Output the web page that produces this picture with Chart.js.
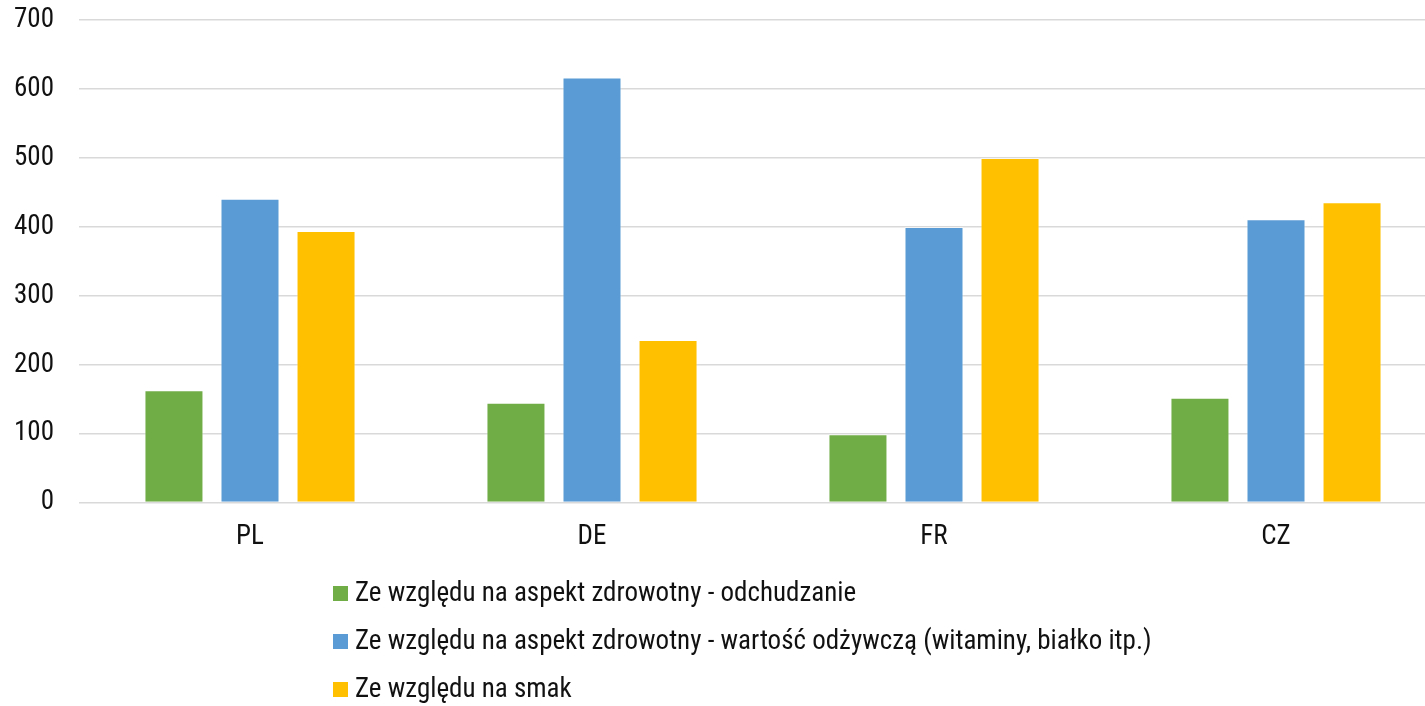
<!DOCTYPE html>
<html>
<head>
<meta charset="utf-8">
<script src="https://cdn.jsdelivr.net/npm/chart.js@4.4.1/dist/chart.umd.min.js"></script>
<style>
  html, body { margin: 0; padding: 0; background: #fff; overflow: hidden; }
  #wrap { width: 1447px; height: 727px; margin-top: -21px; }
</style>
</head>
<body>
<div id="wrap"><canvas id="wykres"></canvas></div>
<script>
const kraje = ['PL', 'DE', 'FR', 'CZ'];
const odchudzanie = [163, 145, 99, 152];
const wartoscOdzywcza = [441, 617, 400, 411];
const smak = [394, 236, 500, 436];
const etykiety = [
  'Ze względu na aspekt zdrowotny - odchudzanie',
  'Ze względu na aspekt zdrowotny - wartość odżywczą (witaminy, białko itp.)',
  'Ze względu na smak'
];
const kolory = ['#70AD47', '#5B9BD5', '#FFC000'];

const FONT = "'Liberation Sans Narrow', 'Roboto Condensed', 'Arial Narrow', Roboto, sans-serif";

// legenda pionowa pod wykresem
const legendaPlugin = {
  id: 'legendaPionowa',
  afterDraw(chart) {
    const ctx = chart.ctx;
    ctx.save();
    ctx.font = '27px ' + FONT;
    ctx.textBaseline = 'middle';
    chart.data.datasets.forEach((ds, i) => {
      const y = 615 + i * 48;
      ctx.fillStyle = ds.backgroundColor;
      ctx.fillRect(333, y - 8, 15, 15);
      ctx.fillStyle = '#111';
      ctx.fillText(ds.label, 355, y);
    });
    ctx.restore();
  }
};

const ctx = document.getElementById('wykres');
new Chart(ctx, {
  type: 'bar',
  data: {
    labels: kraje,
    datasets: [
      { label: etykiety[0], data: odchudzanie, backgroundColor: kolory[0] },
      { label: etykiety[1], data: wartoscOdzywcza, backgroundColor: kolory[1] },
      { label: etykiety[2], data: smak, backgroundColor: kolory[2] }
    ]
  },
  options: {
    responsive: true,
    maintainAspectRatio: false,
    animation: false,
    layout: { padding: { top: 0, bottom: 135, left: 0, right: 0 } },
    datasets: {
      bar: {
        categoryPercentage: 0.667,
        barPercentage: 0.776,
        borderWidth: 1,
        borderColor: 'rgba(255,255,255,0.45)'
      }
    },
    scales: {
      x: {
        grid: { display: false, drawTicks: false },
        border: { display: false },
        ticks: { color: '#111', font: { family: FONT, size: 27 }, padding: 18 }
      },
      y: {
        min: 0,
        max: 700,
        afterFit: (scale) => { scale.width = 79; },
        grid: { color: '#d9d9d9', lineWidth: 1.5, drawTicks: false },
        border: { display: false },
        ticks: { stepSize: 100, color: '#111', font: { family: FONT, size: 27 }, padding: 25 }
      }
    },
    plugins: {
      legend: { display: false },
      tooltip: { enabled: false }
    }
  },
  plugins: [legendaPlugin]
});
</script>
</body>
</html>
